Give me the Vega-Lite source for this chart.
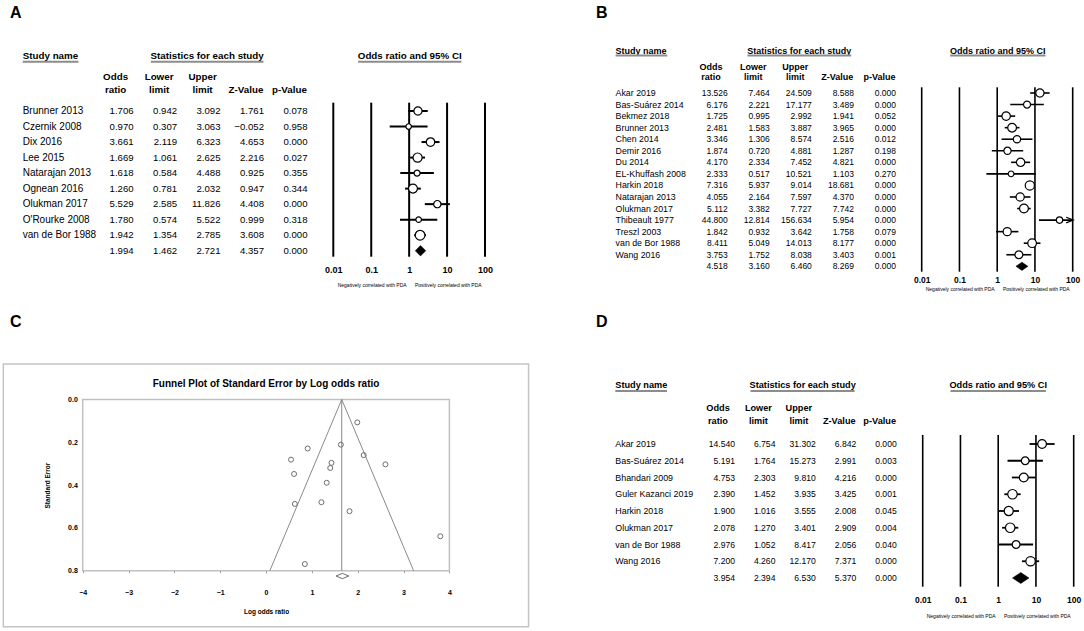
{
"$schema":"https://vega.github.io/schema/vega-lite/v6.json",
"width":1084,"height":631,"autosize":{"type":"none"},"padding":0,"background":"white",
"config":{"view":{"stroke":null},"axis":{"grid":false}},
"datasets":{
"A":[
{"study":"Brunner 2013","type":"study","or":1.706,"lower":0.942,"upper":3.092,"z":1.761,"p":0.078,"weight":12.3},
{"study":"Czernik 2008","type":"study","or":0.970,"lower":0.307,"upper":3.063,"z":-0.052,"p":0.958,"weight":5.6},
{"study":"Dix 2016","type":"study","or":3.661,"lower":2.119,"upper":6.323,"z":4.653,"p":0.000,"weight":13.2},
{"study":"Lee 2015","type":"study","or":1.669,"lower":1.061,"upper":2.625,"z":2.216,"p":0.027,"weight":15.2},
{"study":"Natarajan 2013","type":"study","or":1.618,"lower":0.584,"upper":4.488,"z":0.925,"p":0.355,"weight":6.6},
{"study":"Ognean 2016","type":"study","or":1.260,"lower":0.781,"upper":2.032,"z":0.947,"p":0.344,"weight":14.6},
{"study":"Olukman 2017","type":"study","or":5.529,"lower":2.585,"upper":11.826,"z":4.408,"p":0.000,"weight":9.6},
{"study":"O'Rourke 2008","type":"study","or":1.780,"lower":0.574,"upper":5.522,"z":0.999,"p":0.318,"weight":5.7},
{"study":"van de Bor 1988","type":"study","or":1.942,"lower":1.354,"upper":2.785,"z":3.608,"p":0.000,"weight":17.2},
{"study":"Summary","type":"summary","or":1.994,"lower":1.462,"upper":2.721,"z":4.357,"p":0.000,"weight":100}
],
"B":[
{"study":"Akar 2019","type":"study","or":13.526,"lower":7.464,"upper":24.509,"z":8.588,"p":0.000,"weight":7.33},
{"study":"Bas-Suárez 2014","type":"study","or":6.176,"lower":2.221,"upper":17.177,"z":3.489,"p":0.000,"weight":5.24},
{"study":"Bekmez 2018","type":"study","or":1.725,"lower":0.995,"upper":2.992,"z":1.941,"p":0.052,"weight":7.57},
{"study":"Brunner 2013","type":"study","or":2.481,"lower":1.583,"upper":3.887,"z":3.965,"p":0.000,"weight":8.03},
{"study":"Chen 2014","type":"study","or":3.346,"lower":1.306,"upper":8.574,"z":2.516,"p":0.012,"weight":5.61},
{"study":"Demir 2016","type":"study","or":1.874,"lower":0.720,"upper":4.881,"z":1.287,"p":0.198,"weight":5.54},
{"study":"Du 2014","type":"study","or":4.170,"lower":2.334,"upper":7.452,"z":4.821,"p":0.000,"weight":7.40},
{"study":"EL-Khuffash 2008","type":"study","or":2.333,"lower":0.517,"upper":10.521,"z":1.103,"p":0.270,"weight":3.48},
{"study":"Harkin 2018","type":"study","or":7.316,"lower":5.937,"upper":9.014,"z":18.681,"p":0.000,"weight":8.93},
{"study":"Natarajan 2013","type":"study","or":4.055,"lower":2.164,"upper":7.597,"z":4.370,"p":0.000,"weight":7.17},
{"study":"Olukman 2017","type":"study","or":5.112,"lower":3.382,"upper":7.727,"z":7.742,"p":0.000,"weight":8.20},
{"study":"Thibeault 1977","type":"study","or":44.800,"lower":12.814,"upper":156.634,"z":5.954,"p":0.000,"weight":4.31},
{"study":"Treszl 2003","type":"study","or":1.842,"lower":0.932,"upper":3.642,"z":1.758,"p":0.079,"weight":6.90},
{"study":"van de Bor 1988","type":"study","or":8.411,"lower":5.049,"upper":14.013,"z":8.177,"p":0.000,"weight":7.77},
{"study":"Wang 2016","type":"study","or":3.753,"lower":1.752,"upper":8.038,"z":3.403,"p":0.001,"weight":6.51},
{"study":"Summary","type":"summary","or":4.518,"lower":3.160,"upper":6.460,"z":8.269,"p":0.000,"weight":100}
],
"D":[
{"study":"Akar 2019","type":"study","or":14.540,"lower":6.754,"upper":31.302,"z":6.842,"p":0.000,"weight":12.05},
{"study":"Bas-Suárez 2014","type":"study","or":5.191,"lower":1.764,"upper":15.273,"z":2.991,"p":0.003,"weight":9.43},
{"study":"Bhandari 2009","type":"study","or":4.753,"lower":2.303,"upper":9.810,"z":4.216,"p":0.000,"weight":12.44},
{"study":"Guler Kazanci 2019","type":"study","or":2.390,"lower":1.452,"upper":3.935,"z":3.425,"p":0.001,"weight":14.41},
{"study":"Harkin 2018","type":"study","or":1.900,"lower":1.016,"upper":3.555,"z":2.008,"p":0.045,"weight":13.29},
{"study":"Olukman 2017","type":"study","or":2.078,"lower":1.270,"upper":3.401,"z":2.909,"p":0.004,"weight":14.47},
{"study":"van de Bor 1988","type":"study","or":2.976,"lower":1.052,"upper":8.417,"z":2.056,"p":0.040,"weight":9.76},
{"study":"Wang 2016","type":"study","or":7.200,"lower":4.260,"upper":12.170,"z":7.371,"p":0.000,"weight":14.15},
{"study":"Summary","type":"summary","or":3.954,"lower":2.394,"upper":6.530,"z":5.370,"p":0.000,"weight":100}
],
"funnel":[
{"study":"Akar 2019","logor":2.605,"se":0.303},
{"study":"Bas-Suárez 2014","logor":1.821,"se":0.522},
{"study":"Bekmez 2018","logor":0.545,"se":0.281},
{"study":"Brunner 2013","logor":0.909,"se":0.229},
{"study":"Chen 2014","logor":1.208,"se":0.480},
{"study":"Demir 2016","logor":0.628,"se":0.488},
{"study":"Du 2014","logor":1.428,"se":0.296},
{"study":"EL-Khuffash 2008","logor":0.847,"se":0.769},
{"study":"Harkin 2018","logor":1.990,"se":0.107},
{"study":"Natarajan 2013","logor":1.400,"se":0.320},
{"study":"Olukman 2017","logor":1.632,"se":0.211},
{"study":"Thibeault 1977","logor":3.802,"se":0.639},
{"study":"Treszl 2003","logor":0.611,"se":0.348},
{"study":"van de Bor 1988","logor":2.130,"se":0.260},
{"study":"Wang 2016","logor":1.323,"se":0.389}
],
"funnelLines":[{"logor":0.083,"se":0.8},{"logor":1.651,"se":0},{"logor":3.219,"se":0.8}],
"refs":[{"v":0.01},{"v":0.1},{"v":1},{"v":10},{"v":100}],
"hdrs":[{"col":"or","label":"Odds\nratio"},{"col":"lower","label":"Lower\nlimit"},{"col":"upper","label":"Upper\nlimit"},{"col":"z","label":"\nZ-Value"},{"col":"p","label":"\np-Value"}],
"one":[{}],
"letters":[{"panel":"A","gx":"left","gy":"top"},{"panel":"B","gx":"right","gy":"top"},{"panel":"C","gx":"left","gy":"bottom"},{"panel":"D","gx":"right","gy":"bottom"}]
},
"layer":[
{"data":{"name":"letters"},"mark":{"type":"text","align":"center","baseline":"middle","font":"Liberation Sans, Arial, sans-serif","fontSize":16,"fontWeight":"bold"},
 "encoding":{"x":{"field":"gx","type":"nominal","scale":{"type":"point","domain":["left","right"],"range":[15.8,601.8],"padding":0},"axis":null},
 "y":{"field":"gy","type":"nominal","scale":{"type":"point","domain":["top","bottom"],"range":[12.7,322],"padding":0},"axis":null},
 "text":{"field":"panel","type":"nominal"}}},

{"data":{"name":"A"},"mark":{"type":"text","align":"left","baseline":"middle","dx":-110.9,"font":"Liberation Sans, Arial, sans-serif","fontSize":10},
 "encoding":{"x":{"datum":"or","type":"nominal","scale":{"type":"point","domain":["or","lower","upper","z","p"],"range":[133.6,307.5],"padding":0},"axis":null},
 "y":{"field":"study","type":"nominal","sort":null,"scale":{"type":"point","range":[111,250.7],"padding":0},"axis":null},
 "text":{"condition":{"test":"datum.type==='summary'","value":""},"field":"study","type":"nominal"}}},
{"data":{"name":"A"},"transform":[{"fold":["or","lower","upper","z","p"],"as":["col","val"]}],
 "mark":{"type":"text","align":"right","baseline":"middle","font":"Liberation Sans, Arial, sans-serif","fontSize":9.6},
 "encoding":{"x":{"field":"col","type":"nominal","scale":{"type":"point","domain":["or","lower","upper","z","p"],"range":[133.6,307.5],"padding":0},"axis":null},
 "y":{"field":"study","type":"nominal","sort":null,"scale":{"type":"point","range":[111,250.7],"padding":0},"axis":null},
 "text":{"field":"val","type":"quantitative","format":".3f"}}},
{"data":{"name":"hdrs"},"mark":{"type":"text","align":"center","baseline":"alphabetic","dx":-18,"lineBreak":"\n","lineHeight":12.6,"font":"Liberation Sans, Arial, sans-serif","fontSize":9.8,"fontWeight":"bold"},
 "encoding":{"x":{"field":"col","type":"nominal","scale":{"type":"point","domain":["or","lower","upper","z","p"],"range":[133.6,307.5],"padding":0},"axis":null},
 "y":{"datum":"head","type":"nominal","scale":{"type":"point","domain":["title","head"],"range":[56,80.2],"padding":0},"axis":null},
 "text":{"field":"label","type":"nominal"}}},
{"data":{"name":"one"},"mark":{"type":"text","align":"left","baseline":"middle","dx":-110.9,"font":"Liberation Sans, Arial, sans-serif","fontSize":9.8,"fontWeight":"bold"},
 "encoding":{"x":{"datum":"or","type":"nominal","scale":{"type":"point","domain":["or","lower","upper","z","p"],"range":[133.6,307.5],"padding":0},"axis":null},
 "y":{"datum":"title","type":"nominal","scale":{"type":"point","domain":["title","head"],"range":[56,80.2],"padding":0},"axis":null},
 "text":{"value":"Study name"}}},
{"data":{"name":"one"},"mark":{"type":"text","align":"center","baseline":"middle","dx":-13.4,"font":"Liberation Sans, Arial, sans-serif","fontSize":9.8,"fontWeight":"bold"},
 "encoding":{"x":{"datum":"upper","type":"nominal","scale":{"type":"point","domain":["or","lower","upper","z","p"],"range":[133.6,307.5],"padding":0},"axis":null},
 "y":{"datum":"title","type":"nominal","scale":{"type":"point","domain":["title","head"],"range":[56,80.2],"padding":0},"axis":null},
 "text":{"value":"Statistics for each study"}}},
{"data":{"name":"one"},"mark":{"type":"text","align":"center","baseline":"middle","dx":0.6,"font":"Liberation Sans, Arial, sans-serif","fontSize":9.8,"fontWeight":"bold"},
 "encoding":{"x":{"datum":1,"type":"quantitative","scale":{"type":"log","domain":[0.01,100],"range":[333.3,485],"clamp":true,"nice":false},"axis":null},
 "y":{"datum":"title","type":"nominal","scale":{"type":"point","domain":["title","head"],"range":[56,80.2],"padding":0},"axis":null},
 "text":{"value":"Odds ratio and 95% CI"}}},
{"data":{"name":"one"},"mark":{"type":"rule","stroke":"#8c8c8c","strokeWidth":2,"xOffset":-110.9,"x2Offset":-55.1,"yOffset":5.7},
 "encoding":{"x":{"datum":"or","type":"nominal","scale":{"type":"point","domain":["or","lower","upper","z","p"],"range":[133.6,307.5],"padding":0},"axis":null},"x2":{"datum":"or"},
 "y":{"datum":"title","type":"nominal","scale":{"type":"point","domain":["title","head"],"range":[56,80.2],"padding":0},"axis":null}}},
{"data":{"name":"one"},"mark":{"type":"rule","stroke":"#8c8c8c","strokeWidth":2,"xOffset":-69.7,"x2Offset":42.9,"yOffset":5.7},
 "encoding":{"x":{"datum":"upper","type":"nominal","scale":{"type":"point","domain":["or","lower","upper","z","p"],"range":[133.6,307.5],"padding":0},"axis":null},"x2":{"datum":"upper"},
 "y":{"datum":"title","type":"nominal","scale":{"type":"point","domain":["title","head"],"range":[56,80.2],"padding":0},"axis":null}}},
{"data":{"name":"one"},"mark":{"type":"rule","stroke":"#8c8c8c","strokeWidth":2,"xOffset":-51.05,"x2Offset":52.25,"yOffset":5.7},
 "encoding":{"x":{"datum":1,"type":"quantitative","scale":{"type":"log","domain":[0.01,100],"range":[333.3,485],"clamp":true,"nice":false},"axis":null},"x2":{"datum":1},
 "y":{"datum":"title","type":"nominal","scale":{"type":"point","domain":["title","head"],"range":[56,80.2],"padding":0},"axis":null}}},
{"data":{"name":"refs"},"mark":{"type":"rule","stroke":"black","strokeWidth":2},
 "encoding":{"x":{"field":"v","type":"quantitative","scale":{"type":"log","domain":[0.01,100],"range":[333.3,485],"clamp":true,"nice":false},
   "axis":{"orient":"bottom","offset":-361.7,"zindex":1,"values":[0.01,0.1,1,10,100],"format":"~g","domain":false,"ticks":false,"grid":false,"labelPadding":0,"labelBaseline":"middle","labelFlush":false,"labelOverlap":false,"labelBound":false,"labelFont":"Liberation Sans, Arial, sans-serif","labelFontWeight":"bold","labelFontSize":9,"labelColor":"black",
   "title":"Negatively correlated with PDA\u00a0\u00a0\u00a0\u00a0\u00a0\u00a0Positively correlated with PDA","titleFont":"Liberation Sans, Arial, sans-serif","titleFontSize":5,"titleFontWeight":"normal","titleColor":"black","titlePadding":8}},
 "y":{"datum":"top","type":"nominal","scale":{"type":"point","domain":["top","bottom"],"range":[102.7,256.7],"padding":0},"axis":null},"y2":{"datum":"bottom"}}},
{"data":{"name":"A"},"mark":{"type":"rule","stroke":"black","strokeWidth":2},
 "encoding":{"x":{"field":"lower","type":"quantitative","scale":{"type":"log","domain":[0.01,100],"range":[333.3,485],"clamp":true,"nice":false},"axis":null},"x2":{"field":"upper"},
 "y":{"field":"study","type":"nominal","sort":null,"scale":{"type":"point","range":[111,250.7],"padding":0},"axis":null},
 "strokeOpacity":{"condition":{"test":"datum.type==='summary'","value":0},"value":1}}},
{"data":{"name":"A"},"mark":{"type":"point","shape":"circle","filled":true,"fill":"white","stroke":"black","strokeWidth":1.2},
 "encoding":{"x":{"field":"or","type":"quantitative","scale":{"type":"log","domain":[0.01,100],"range":[333.3,485],"clamp":true,"nice":false},"axis":null},
 "y":{"field":"study","type":"nominal","sort":null,"scale":{"type":"point","range":[111,250.7],"padding":0},"axis":null},
 "size":{"field":"weight","type":"quantitative","scale":{"type":"linear","domain":[0,20],"range":[0,110]},"legend":null},
 "opacity":{"condition":{"test":"datum.type==='summary'","value":0},"value":1}}},
{"data":{"name":"A"},"mark":{"type":"point","shape":"diamond","filled":true,"fill":"black","stroke":"black","strokeWidth":0.5,"size":110},
 "encoding":{"x":{"field":"or","type":"quantitative","scale":{"type":"log","domain":[0.01,100],"range":[333.3,485],"clamp":true,"nice":false},"axis":null},
 "y":{"field":"study","type":"nominal","sort":null,"scale":{"type":"point","range":[111,250.7],"padding":0},"axis":null},
 "opacity":{"condition":{"test":"datum.type==='summary'","value":1},"value":0}}},

{"data":{"name":"B"},"mark":{"type":"text","align":"left","baseline":"middle","dx":-112.1,"font":"Liberation Sans, Arial, sans-serif","fontSize":8.8},
 "encoding":{"x":{"datum":"or","type":"nominal","scale":{"type":"point","domain":["or","lower","upper","z","p"],"range":[727.7,896],"padding":0},"axis":null},
 "y":{"field":"study","type":"nominal","sort":null,"scale":{"type":"point","range":[93,266.3],"padding":0},"axis":null},
 "text":{"condition":{"test":"datum.type==='summary'","value":""},"field":"study","type":"nominal"}}},
{"data":{"name":"B"},"transform":[{"fold":["or","lower","upper","z","p"],"as":["col","val"]}],
 "mark":{"type":"text","align":"right","baseline":"middle","font":"Liberation Sans, Arial, sans-serif","fontSize":8.5},
 "encoding":{"x":{"field":"col","type":"nominal","scale":{"type":"point","domain":["or","lower","upper","z","p"],"range":[727.7,896],"padding":0},"axis":null},
 "y":{"field":"study","type":"nominal","sort":null,"scale":{"type":"point","range":[93,266.3],"padding":0},"axis":null},
 "text":{"field":"val","type":"quantitative","format":".3f"}}},
{"data":{"name":"hdrs"},"mark":{"type":"text","align":"center","baseline":"alphabetic","dx":-16.6,"lineBreak":"\n","lineHeight":10,"font":"Liberation Sans, Arial, sans-serif","fontSize":9,"fontWeight":"bold"},
 "encoding":{"x":{"field":"col","type":"nominal","scale":{"type":"point","domain":["or","lower","upper","z","p"],"range":[727.7,896],"padding":0},"axis":null},
 "y":{"datum":"head","type":"nominal","scale":{"type":"point","domain":["title","head"],"range":[50.7,69.9],"padding":0},"axis":null},
 "text":{"field":"label","type":"nominal"}}},
{"data":{"name":"one"},"mark":{"type":"text","align":"left","baseline":"middle","dx":-112.1,"font":"Liberation Sans, Arial, sans-serif","fontSize":9,"fontWeight":"bold"},
 "encoding":{"x":{"datum":"or","type":"nominal","scale":{"type":"point","domain":["or","lower","upper","z","p"],"range":[727.7,896],"padding":0},"axis":null},
 "y":{"datum":"title","type":"nominal","scale":{"type":"point","domain":["title","head"],"range":[50.7,69.9],"padding":0},"axis":null},
 "text":{"value":"Study name"}}},
{"data":{"name":"one"},"mark":{"type":"text","align":"center","baseline":"middle","dx":-12.5,"font":"Liberation Sans, Arial, sans-serif","fontSize":9,"fontWeight":"bold"},
 "encoding":{"x":{"datum":"upper","type":"nominal","scale":{"type":"point","domain":["or","lower","upper","z","p"],"range":[727.7,896],"padding":0},"axis":null},
 "y":{"datum":"title","type":"nominal","scale":{"type":"point","domain":["title","head"],"range":[50.7,69.9],"padding":0},"axis":null},
 "text":{"value":"Statistics for each study"}}},
{"data":{"name":"one"},"mark":{"type":"text","align":"center","baseline":"middle","dx":0.6,"font":"Liberation Sans, Arial, sans-serif","fontSize":9,"fontWeight":"bold"},
 "encoding":{"x":{"datum":1,"type":"quantitative","scale":{"type":"log","domain":[0.01,100],"range":[921.7,1072.7],"clamp":true,"nice":false},"axis":null},
 "y":{"datum":"title","type":"nominal","scale":{"type":"point","domain":["title","head"],"range":[50.7,69.9],"padding":0},"axis":null},
 "text":{"value":"Odds ratio and 95% CI"}}},
{"data":{"name":"one"},"mark":{"type":"rule","stroke":"#8c8c8c","strokeWidth":1.8,"xOffset":-112.1,"x2Offset":-60.4,"yOffset":4.8},
 "encoding":{"x":{"datum":"or","type":"nominal","scale":{"type":"point","domain":["or","lower","upper","z","p"],"range":[727.7,896],"padding":0},"axis":null},"x2":{"datum":"or"},
 "y":{"datum":"title","type":"nominal","scale":{"type":"point","domain":["title","head"],"range":[50.7,69.9],"padding":0},"axis":null}}},
{"data":{"name":"one"},"mark":{"type":"rule","stroke":"#8c8c8c","strokeWidth":1.8,"xOffset":-64.4,"x2Offset":39.3,"yOffset":4.8},
 "encoding":{"x":{"datum":"upper","type":"nominal","scale":{"type":"point","domain":["or","lower","upper","z","p"],"range":[727.7,896],"padding":0},"axis":null},"x2":{"datum":"upper"},
 "y":{"datum":"title","type":"nominal","scale":{"type":"point","domain":["title","head"],"range":[50.7,69.9],"padding":0},"axis":null}}},
{"data":{"name":"one"},"mark":{"type":"rule","stroke":"#8c8c8c","strokeWidth":1.8,"xOffset":-47.1,"x2Offset":48.3,"yOffset":4.8},
 "encoding":{"x":{"datum":1,"type":"quantitative","scale":{"type":"log","domain":[0.01,100],"range":[921.7,1072.7],"clamp":true,"nice":false},"axis":null},"x2":{"datum":1},
 "y":{"datum":"title","type":"nominal","scale":{"type":"point","domain":["title","head"],"range":[50.7,69.9],"padding":0},"axis":null}}},
{"data":{"name":"refs"},"mark":{"type":"rule","stroke":"black","strokeWidth":1.6},
 "encoding":{"x":{"field":"v","type":"quantitative","scale":{"type":"log","domain":[0.01,100],"range":[921.7,1072.7],"clamp":true,"nice":false},
   "axis":{"orient":"bottom","offset":-352,"zindex":1,"values":[0.01,0.1,1,10,100],"format":"~g","domain":false,"ticks":false,"grid":false,"labelPadding":0,"labelBaseline":"middle","labelFlush":false,"labelOverlap":false,"labelBound":false,"labelFont":"Liberation Sans, Arial, sans-serif","labelFontWeight":"bold","labelFontSize":8.5,"labelColor":"black",
   "title":"Negatively correlated with PDA\u00a0\u00a0\u00a0\u00a0\u00a0\u00a0Positively correlated with PDA","titleFont":"Liberation Sans, Arial, sans-serif","titleFontSize":5,"titleFontWeight":"normal","titleColor":"black","titlePadding":3}},
 "y":{"datum":"top","type":"nominal","scale":{"type":"point","domain":["top","bottom"],"range":[87.3,271.7],"padding":0},"axis":null},"y2":{"datum":"bottom"}}},
{"data":{"name":"B"},"mark":{"type":"rule","stroke":"black","strokeWidth":1.6},
 "encoding":{"x":{"field":"lower","type":"quantitative","scale":{"type":"log","domain":[0.01,100],"range":[921.7,1072.7],"clamp":true,"nice":false},"axis":null},"x2":{"field":"upper"},
 "y":{"field":"study","type":"nominal","sort":null,"scale":{"type":"point","range":[93,266.3],"padding":0},"axis":null},
 "strokeOpacity":{"condition":{"test":"datum.type==='summary'","value":0},"value":1}}},
{"data":{"name":"B"},"mark":{"type":"point","shape":"M-1,-0.8L1,0L-1,0.8","filled":false,"stroke":"black","strokeWidth":1.2,"size":49,"xOffset":-3},
 "encoding":{"x":{"field":"upper","type":"quantitative","scale":{"type":"log","domain":[0.01,100],"range":[921.7,1072.7],"clamp":true,"nice":false},"axis":null},
 "y":{"field":"study","type":"nominal","sort":null,"scale":{"type":"point","range":[93,266.3],"padding":0},"axis":null},
 "opacity":{"condition":{"test":"datum.upper > 100","value":1},"value":0}}},
{"data":{"name":"B"},"mark":{"type":"point","shape":"circle","filled":true,"fill":"white","stroke":"black","strokeWidth":1.2},
 "encoding":{"x":{"field":"or","type":"quantitative","scale":{"type":"log","domain":[0.01,100],"range":[921.7,1072.7],"clamp":true,"nice":false},"axis":null},
 "y":{"field":"study","type":"nominal","sort":null,"scale":{"type":"point","range":[93,266.3],"padding":0},"axis":null},
 "size":{"field":"weight","type":"quantitative","scale":{"type":"linear","domain":[0,10],"range":[0,95]},"legend":null},
 "opacity":{"condition":{"test":"datum.type==='summary'","value":0},"value":1}}},
{"data":{"name":"B"},"mark":{"type":"point","shape":"M-1,0L0,-0.69L1,0L0,0.69Z","filled":true,"fill":"black","stroke":"black","strokeWidth":0.5,"size":144},
 "encoding":{"x":{"field":"or","type":"quantitative","scale":{"type":"log","domain":[0.01,100],"range":[921.7,1072.7],"clamp":true,"nice":false},"axis":null},
 "y":{"field":"study","type":"nominal","sort":null,"scale":{"type":"point","range":[93,266.3],"padding":0},"axis":null},
 "opacity":{"condition":{"test":"datum.type==='summary'","value":1},"value":0}}},

{"data":{"name":"D"},"mark":{"type":"text","align":"left","baseline":"middle","dx":-119.7,"font":"Liberation Sans, Arial, sans-serif","fontSize":8.9},
 "encoding":{"x":{"datum":"or","type":"nominal","scale":{"type":"point","domain":["or","lower","upper","z","p"],"range":[735,896.7],"padding":0},"axis":null},
 "y":{"field":"study","type":"nominal","sort":null,"scale":{"type":"point","range":[444,578],"padding":0},"axis":null},
 "text":{"condition":{"test":"datum.type==='summary'","value":""},"field":"study","type":"nominal"}}},
{"data":{"name":"D"},"transform":[{"fold":["or","lower","upper","z","p"],"as":["col","val"]}],
 "mark":{"type":"text","align":"right","baseline":"middle","font":"Liberation Sans, Arial, sans-serif","fontSize":8.6},
 "encoding":{"x":{"field":"col","type":"nominal","scale":{"type":"point","domain":["or","lower","upper","z","p"],"range":[735,896.7],"padding":0},"axis":null},
 "y":{"field":"study","type":"nominal","sort":null,"scale":{"type":"point","range":[444,578],"padding":0},"axis":null},
 "text":{"field":"val","type":"quantitative","format":".3f"}}},
{"data":{"name":"hdrs"},"mark":{"type":"text","align":"center","baseline":"alphabetic","dx":-17,"lineBreak":"\n","lineHeight":13.4,"font":"Liberation Sans, Arial, sans-serif","fontSize":9.2,"fontWeight":"bold"},
 "encoding":{"x":{"field":"col","type":"nominal","scale":{"type":"point","domain":["or","lower","upper","z","p"],"range":[735,896.7],"padding":0},"axis":null},
 "y":{"datum":"head","type":"nominal","scale":{"type":"point","domain":["title","head"],"range":[385,410.6],"padding":0},"axis":null},
 "text":{"field":"label","type":"nominal"}}},
{"data":{"name":"one"},"mark":{"type":"text","align":"left","baseline":"middle","dx":-119.7,"font":"Liberation Sans, Arial, sans-serif","fontSize":9.2,"fontWeight":"bold"},
 "encoding":{"x":{"datum":"or","type":"nominal","scale":{"type":"point","domain":["or","lower","upper","z","p"],"range":[735,896.7],"padding":0},"axis":null},
 "y":{"datum":"title","type":"nominal","scale":{"type":"point","domain":["title","head"],"range":[385,410.6],"padding":0},"axis":null},
 "text":{"value":"Study name"}}},
{"data":{"name":"one"},"mark":{"type":"text","align":"center","baseline":"middle","dx":-13.2,"font":"Liberation Sans, Arial, sans-serif","fontSize":9.2,"fontWeight":"bold"},
 "encoding":{"x":{"datum":"upper","type":"nominal","scale":{"type":"point","domain":["or","lower","upper","z","p"],"range":[735,896.7],"padding":0},"axis":null},
 "y":{"datum":"title","type":"nominal","scale":{"type":"point","domain":["title","head"],"range":[385,410.6],"padding":0},"axis":null},
 "text":{"value":"Statistics for each study"}}},
{"data":{"name":"one"},"mark":{"type":"text","align":"center","baseline":"middle","font":"Liberation Sans, Arial, sans-serif","fontSize":9.2,"fontWeight":"bold"},
 "encoding":{"x":{"datum":1,"type":"quantitative","scale":{"type":"log","domain":[0.01,100],"range":[922.7,1073.7],"clamp":true,"nice":false},"axis":null},
 "y":{"datum":"title","type":"nominal","scale":{"type":"point","domain":["title","head"],"range":[385,410.6],"padding":0},"axis":null},
 "text":{"value":"Odds ratio and 95% CI"}}},
{"data":{"name":"one"},"mark":{"type":"rule","stroke":"#8c8c8c","strokeWidth":2,"xOffset":-119.7,"x2Offset":-68,"yOffset":6},
 "encoding":{"x":{"datum":"or","type":"nominal","scale":{"type":"point","domain":["or","lower","upper","z","p"],"range":[735,896.7],"padding":0},"axis":null},"x2":{"datum":"or"},
 "y":{"datum":"title","type":"nominal","scale":{"type":"point","domain":["title","head"],"range":[385,410.6],"padding":0},"axis":null}}},
{"data":{"name":"one"},"mark":{"type":"rule","stroke":"#8c8c8c","strokeWidth":2,"xOffset":-65.3,"x2Offset":38.8,"yOffset":6},
 "encoding":{"x":{"datum":"upper","type":"nominal","scale":{"type":"point","domain":["or","lower","upper","z","p"],"range":[735,896.7],"padding":0},"axis":null},"x2":{"datum":"upper"},
 "y":{"datum":"title","type":"nominal","scale":{"type":"point","domain":["title","head"],"range":[385,410.6],"padding":0},"axis":null}}},
{"data":{"name":"one"},"mark":{"type":"rule","stroke":"#8c8c8c","strokeWidth":2,"xOffset":-47.7,"x2Offset":47.7,"yOffset":6},
 "encoding":{"x":{"datum":1,"type":"quantitative","scale":{"type":"log","domain":[0.01,100],"range":[922.7,1073.7],"clamp":true,"nice":false},"axis":null},"x2":{"datum":1},
 "y":{"datum":"title","type":"nominal","scale":{"type":"point","domain":["title","head"],"range":[385,410.6],"padding":0},"axis":null}}},
{"data":{"name":"refs"},"mark":{"type":"rule","stroke":"black","strokeWidth":1.6},
 "encoding":{"x":{"field":"v","type":"quantitative","scale":{"type":"log","domain":[0.01,100],"range":[922.7,1073.7],"clamp":true,"nice":false},
   "axis":{"orient":"bottom","offset":-31.7,"zindex":1,"values":[0.01,0.1,1,10,100],"format":"~g","domain":false,"ticks":false,"grid":false,"labelPadding":0,"labelBaseline":"middle","labelFlush":false,"labelOverlap":false,"labelBound":false,"labelFont":"Liberation Sans, Arial, sans-serif","labelFontWeight":"bold","labelFontSize":8.5,"labelColor":"black",
   "title":"Negatively correlated with PDA\u00a0\u00a0\u00a0\u00a0\u00a0\u00a0Positively correlated with PDA","titleFont":"Liberation Sans, Arial, sans-serif","titleFontSize":5,"titleFontWeight":"normal","titleColor":"black","titlePadding":10}},
 "y":{"datum":"top","type":"nominal","scale":{"type":"point","domain":["top","bottom"],"range":[435,586.7],"padding":0},"axis":null},"y2":{"datum":"bottom"}}},
{"data":{"name":"D"},"mark":{"type":"rule","stroke":"black","strokeWidth":1.8},
 "encoding":{"x":{"field":"lower","type":"quantitative","scale":{"type":"log","domain":[0.01,100],"range":[922.7,1073.7],"clamp":true,"nice":false},"axis":null},"x2":{"field":"upper"},
 "y":{"field":"study","type":"nominal","sort":null,"scale":{"type":"point","range":[444,578],"padding":0},"axis":null},
 "strokeOpacity":{"condition":{"test":"datum.type==='summary'","value":0},"value":1}}},
{"data":{"name":"D"},"mark":{"type":"point","shape":"circle","filled":true,"fill":"white","stroke":"black","strokeWidth":1.2},
 "encoding":{"x":{"field":"or","type":"quantitative","scale":{"type":"log","domain":[0.01,100],"range":[922.7,1073.7],"clamp":true,"nice":false},"axis":null},
 "y":{"field":"study","type":"nominal","sort":null,"scale":{"type":"point","range":[444,578],"padding":0},"axis":null},
 "size":{"field":"weight","type":"quantitative","scale":{"type":"linear","domain":[0,20],"range":[0,125]},"legend":null},
 "opacity":{"condition":{"test":"datum.type==='summary'","value":0},"value":1}}},
{"data":{"name":"D"},"mark":{"type":"point","shape":"M-1,0L0,-0.67L1,0L0,0.67Z","filled":true,"fill":"black","stroke":"black","strokeWidth":0.5,"size":272},
 "encoding":{"x":{"field":"or","type":"quantitative","scale":{"type":"log","domain":[0.01,100],"range":[922.7,1073.7],"clamp":true,"nice":false},"axis":null},
 "y":{"field":"study","type":"nominal","sort":null,"scale":{"type":"point","range":[444,578],"padding":0},"axis":null},
 "opacity":{"condition":{"test":"datum.type==='summary'","value":1},"value":0}}},

{"data":{"name":"one"},"mark":{"type":"rect","filled":false,"stroke":"#c4c4c4","strokeWidth":1.5},
 "encoding":{"x":{"datum":-5.732,"type":"quantitative","scale":{"type":"linear","domain":[-4,4],"range":[82.7,449.4],"nice":false,"zero":false},"axis":null},"x2":{"datum":5.727},
 "y":{"datum":-0.1659,"type":"quantitative","scale":{"type":"linear","domain":[0,0.8],"range":[399.5,570.7],"nice":false,"zero":false},"axis":null},"y2":{"datum":1.0617}}},
{"data":{"name":"one"},"mark":{"type":"rect","filled":false,"stroke":"#c0c0c0","strokeWidth":1.5},
 "encoding":{"x":{"datum":-4,"type":"quantitative","scale":{"type":"linear","domain":[-4,4],"range":[82.7,449.4],"nice":false,"zero":false},"axis":null},"x2":{"datum":4},
 "y":{"datum":0,"type":"quantitative","scale":{"type":"linear","domain":[0,0.8],"range":[399.5,570.7],"nice":false,"zero":false},"axis":null},"y2":{"datum":0.8}}},
{"data":{"name":"one"},"mark":{"type":"text","align":"center","baseline":"middle","font":"Liberation Sans, Arial, sans-serif","fontSize":10,"fontWeight":"bold"},
 "encoding":{"x":{"datum":0,"type":"quantitative","scale":{"type":"linear","domain":[-4,4],"range":[82.7,449.4],"nice":false,"zero":false},"axis":null},
 "y":{"datum":-0.0724,"type":"quantitative","scale":{"type":"linear","domain":[0,0.8],"range":[399.5,570.7],"nice":false,"zero":false},"axis":null},
 "text":{"value":"Funnel Plot of Standard Error by Log odds ratio"}}},
{"data":{"name":"funnelLines"},"mark":{"type":"line","stroke":"#8a8a8a","strokeWidth":1},
 "encoding":{"x":{"field":"logor","type":"quantitative","scale":{"type":"linear","domain":[-4,4],"range":[82.7,449.4],"nice":false,"zero":false},"axis":null},
 "y":{"field":"se","type":"quantitative","scale":{"type":"linear","domain":[0,0.8],"range":[399.5,570.7],"nice":false,"zero":false},"axis":null}}},
{"data":{"name":"one"},"mark":{"type":"rule","stroke":"#8a8a8a","strokeWidth":1},
 "encoding":{"x":{"datum":1.651,"type":"quantitative","scale":{"type":"linear","domain":[-4,4],"range":[82.7,449.4],"nice":false,"zero":false},"axis":null},
 "y":{"datum":0,"type":"quantitative","scale":{"type":"linear","domain":[0,0.8],"range":[399.5,570.7],"nice":false,"zero":false},"axis":null},"y2":{"datum":0.8}}},
{"data":{"name":"funnel"},"mark":{"type":"point","shape":"circle","filled":false,"stroke":"#6e6e6e","strokeWidth":1,"size":25,"opacity":1},
 "encoding":{"x":{"field":"logor","type":"quantitative","scale":{"type":"linear","domain":[-4,4],"range":[82.7,449.4],"nice":false,"zero":false},
   "axis":{"orient":"bottom","offset":-60.3,"zindex":1,"values":[-4,-3,-2,-1,0,1,2,3,4],"format":"d","domain":false,"ticks":true,"tickSize":2,"tickColor":"#9a9a9a","grid":false,"labelPadding":20,"labelBaseline":"middle","labelFlush":false,"labelOverlap":false,"labelBound":false,"labelFont":"Liberation Sans, Arial, sans-serif","labelFontWeight":"bold","labelFontSize":7,"labelColor":"black",
   "title":"Log odds ratio","titleFont":"Liberation Sans, Arial, sans-serif","titleFontSize":6.5,"titleFontWeight":"bold","titleColor":"black","titlePadding":13}},
 "y":{"field":"se","type":"quantitative","scale":{"type":"linear","domain":[0,0.8],"range":[399.5,570.7],"nice":false,"zero":false},
   "axis":{"orient":"left","offset":-82.7,"zindex":1,"values":[0,0.2,0.4,0.6,0.8],"format":".1f","domain":false,"ticks":false,"grid":false,"labelPadding":5.4,"labelBaseline":"middle","labelFlush":false,"labelOverlap":false,"labelBound":false,"labelFont":"Liberation Sans, Arial, sans-serif","labelFontWeight":"bold","labelFontSize":7,"labelColor":"black",
   "title":"Standard Error","titleFont":"Liberation Sans, Arial, sans-serif","titleFontSize":6.5,"titleFontWeight":"bold","titleColor":"black","titlePadding":17}}}},
{"data":{"name":"one"},"mark":{"type":"point","shape":"M-1,0L0,-0.42L1,0L0,0.42Z","filled":true,"fill":"white","stroke":"#6e6e6e","strokeWidth":1,"size":161,"opacity":1},
 "encoding":{"x":{"datum":1.665,"type":"quantitative","scale":{"type":"linear","domain":[-4,4],"range":[82.7,449.4],"nice":false,"zero":false},"axis":null},
 "y":{"datum":0.8248,"type":"quantitative","scale":{"type":"linear","domain":[0,0.8],"range":[399.5,570.7],"nice":false,"zero":false},"axis":null}}}
],
"resolve":{"scale":{"x":"independent","y":"independent","size":"independent"},"axis":{"x":"independent","y":"independent"}}
}
